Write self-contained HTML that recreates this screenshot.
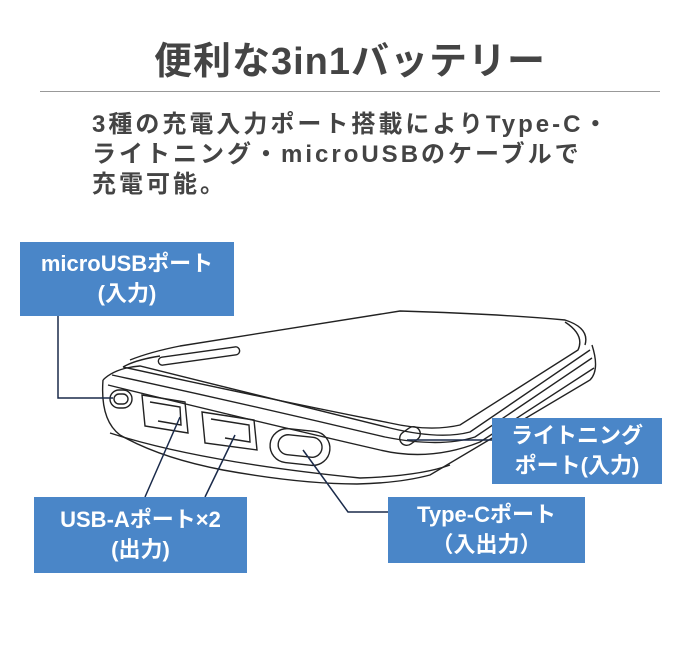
<!DOCTYPE html>
<html><head><meta charset="utf-8"><style>
body{margin:0;width:700px;height:658px;background:#fff;position:relative;font-family:"Liberation Sans","Noto Sans CJK JP",sans-serif;overflow:hidden}
.t{position:absolute;left:0;width:700px;top:30px;text-align:center;font-size:38px;font-weight:bold;color:#444;letter-spacing:1px}
.hr{position:absolute;left:40px;width:620px;top:91px;height:1px;background:#999}
.p{position:absolute;left:92px;top:110px;font-size:24px;font-weight:bold;color:#444;line-height:30px;letter-spacing:3px}
.b{position:absolute;background:#4a86c8;color:#fff;font-weight:bold;font-size:22px;text-align:center;line-height:30px;display:flex;align-items:center;justify-content:center}
svg{position:absolute;left:0;top:0}
</style></head><body>
<div class="t">便利な3in1バッテリー</div>
<div class="hr"></div>
<div class="p">3種の充電入力ポート搭載によりType-C・<br>ライトニング・microUSBのケーブルで<br>充電可能。</div>
<svg width="700" height="658" fill="none" stroke="#222" stroke-width="1.4">
<path d="M130 360 Q150 352 180 346 L400 311 Q500 314 565 320 Q590 328 585 345"/>
<path d="M123 367 Q135 360 160 356 M123 367 Q250 395 390 423 Q430 432 460 425 L578 350 Q585 335 565 322"/>
<path d="M103 380 Q115 368 140 366 L390 428 Q440 440 470 432 L590 350"/>
<path d="M103 380 Q100 420 120 435 Q160 458 223 470 Q300 484 357 484 Q400 483 430 475 L590 380 Q600 370 592 345"/>
<path d="M108 385 Q250 420 380 450 Q430 462 480 442 L594 368"/>
<path d="M112 375 Q250 405 385 437 Q440 448 475 437 L592 358"/>
<path d="M110 433 Q200 462 360 478 Q420 476 450 465"/>
<rect x="158" y="352" width="82" height="8" rx="4" transform="rotate(-8 199 356)"/>
<rect x="110" y="390" width="22" height="18" rx="9"/>
<rect x="114" y="394" width="14" height="10" rx="5"/>
<path d="M142 395 L185 402 L188 433 L145 426 Z"/><path d="M150 402 L180 407 L181 425 L158 421"/>
<path d="M202 412 L254 420 L257 450 L205 443 Z"/><path d="M211 419 L249 425 L250 442 L225 438"/>
<rect x="270" y="430" width="60" height="34" rx="17" transform="rotate(6 300 447)"/>
<rect x="278" y="436" width="44" height="20" rx="10" transform="rotate(6 300 447)"/>
<rect x="399" y="429" width="22" height="14" rx="7" transform="rotate(-35 410 436)"/>
<path stroke="#1a2a4a" stroke-width="1.5" d="M58 316 V398 H113 M180 417 L145 497 M235 435 L205 497 M303 450 L348 512 H388 M407 440 H492"/>
</svg>
<div class="b" style="left:20px;top:242px;width:214px;height:74px">microUSBポート<br>(入力)</div>
<div class="b" style="left:492px;top:418px;width:170px;height:66px">ライトニング<br>ポート(入力)</div>
<div class="b" style="left:34px;top:497px;width:213px;height:76px">USB-Aポート×2<br>(出力)</div>
<div class="b" style="left:388px;top:497px;width:197px;height:66px">Type-Cポート<br>（入出力）</div>
</body></html>
